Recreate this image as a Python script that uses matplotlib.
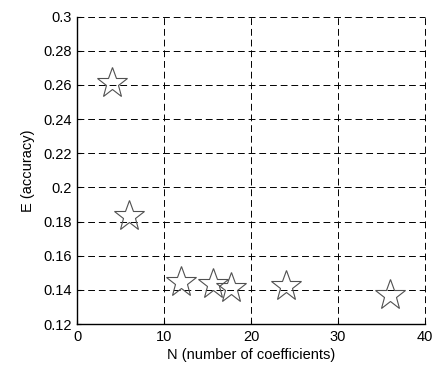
import matplotlib
matplotlib.use("Agg")
import matplotlib.pyplot as plt

plt.rcParams['font.family'] = ['Liberation Sans', 'DejaVu Sans']

# N (number of coefficients) vs E (accuracy)
n_coef = [4, 6, 12, 15.6, 17.7, 24, 36]
accuracy = [0.261, 0.183, 0.1445, 0.1435, 0.141, 0.1425, 0.137]

xticks = [0, 10, 20, 30, 40]
yticks = [0.12, 0.14, 0.16, 0.18, 0.2, 0.22, 0.24, 0.26, 0.28, 0.3]
ytick_labels = ['0.12', '0.14', '0.16', '0.18', '0.2', '0.22', '0.24', '0.26', '0.28', '0.3']

fig = plt.figure(figsize=(4.36, 3.65), dpi=100)
ax = fig.add_axes([77 / 436, 1 - 324 / 365, 348 / 436, 307.3 / 365])

ax.plot(n_coef, accuracy, linestyle='none', marker='*', markersize=23,
        markerfacecolor='none', markeredgecolor='#505050', markeredgewidth=0.8,
        zorder=3)

ax.set_xlim(0, 40)
ax.set_ylim(0.12, 0.3)
ax.set_xticks(xticks)
ax.set_yticks(yticks)
ax.set_yticklabels(ytick_labels)

ax.grid(True, color='black', linestyle=(0, (7, 4)), linewidth=0.7)
for gl in ax.get_xgridlines() + ax.get_ygridlines():
    gl.set_clip_on(False)

ax.spines['top'].set_visible(False)
ax.spines['right'].set_visible(False)
ax.spines['left'].set_linewidth(1.0)
ax.spines['bottom'].set_linewidth(1.0)

ax.tick_params(direction='in', length=3, width=0.8, labelsize=10.5, pad=4)
ax.set_xlabel('N (number of coefficients)', fontsize=10.5, labelpad=3)
ax.set_ylabel('E (accuracy)', fontsize=10.5, labelpad=6)

fig.savefig('out.png', dpi=100)
